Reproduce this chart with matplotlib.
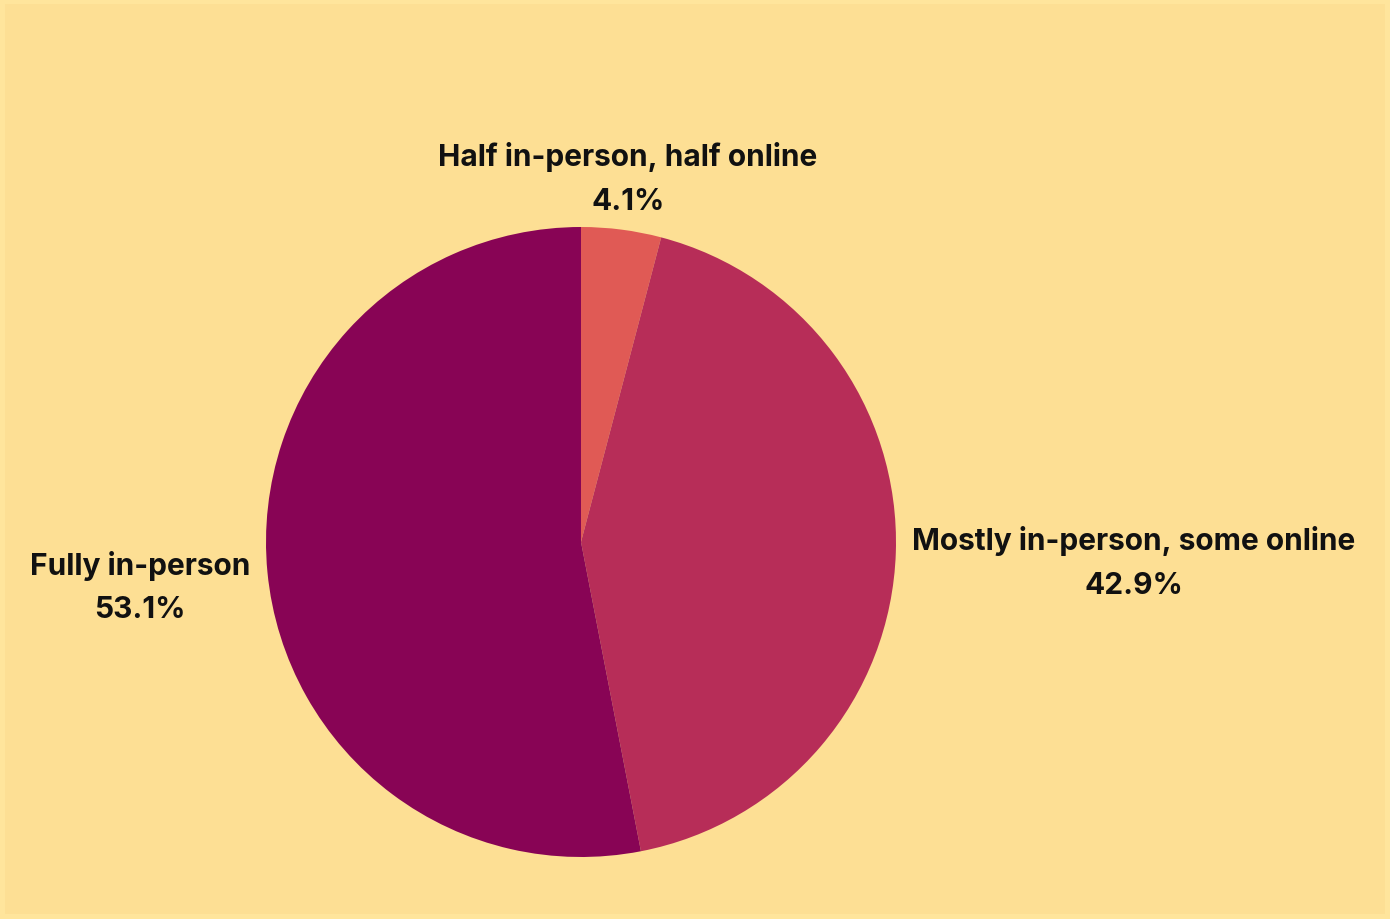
import matplotlib.pyplot as plt
from matplotlib.patches import Rectangle

# Share of respondents by format
categories = ['Half in-person, half online', 'Mostly in-person, some online', 'Fully in-person']
shares = [4.1, 42.9, 53.1]
colors = ['#E05A55', '#B72D58', '#880455']

# label anchor points (pixels, from top-left): name line, percent line
label_pos = [(628, 157, 202), (1134, 541, 586), (140, 566, 610)]

W, H = 1390, 920
fig = plt.figure(figsize=(13.9, 9.2), dpi=100)
fig.patch.set_facecolor('#FFE59C')
ax = fig.add_axes([0, 0, 1, 1])

# inner panel, slightly darker than the border
ax.add_patch(Rectangle((5, 5), W - 10, H - 10, facecolor='#FDDF94', edgecolor='none', zorder=0))

wedges, _ = ax.pie(shares, colors=colors, startangle=90, counterclock=False,
                   center=(581, H - 543), radius=315, frame=True,
                   wedgeprops={'linewidth': 0})
ax.set_xlim(0, W)
ax.set_ylim(0, H)
ax.axis('off')

for name, val, (x, y1, y2) in zip(categories, shares, label_pos):
    ax.text(x, H - y1, name, ha='center', va='center', fontsize=21.5,
            fontweight='bold', family='Inter', color='#111111')
    ax.text(x, H - y2, f'{val}%', ha='center', va='center', fontsize=21.5,
            fontweight='bold', family='Inter', color='#111111')

plt.savefig('out.png', dpi=100, facecolor=fig.get_facecolor())
